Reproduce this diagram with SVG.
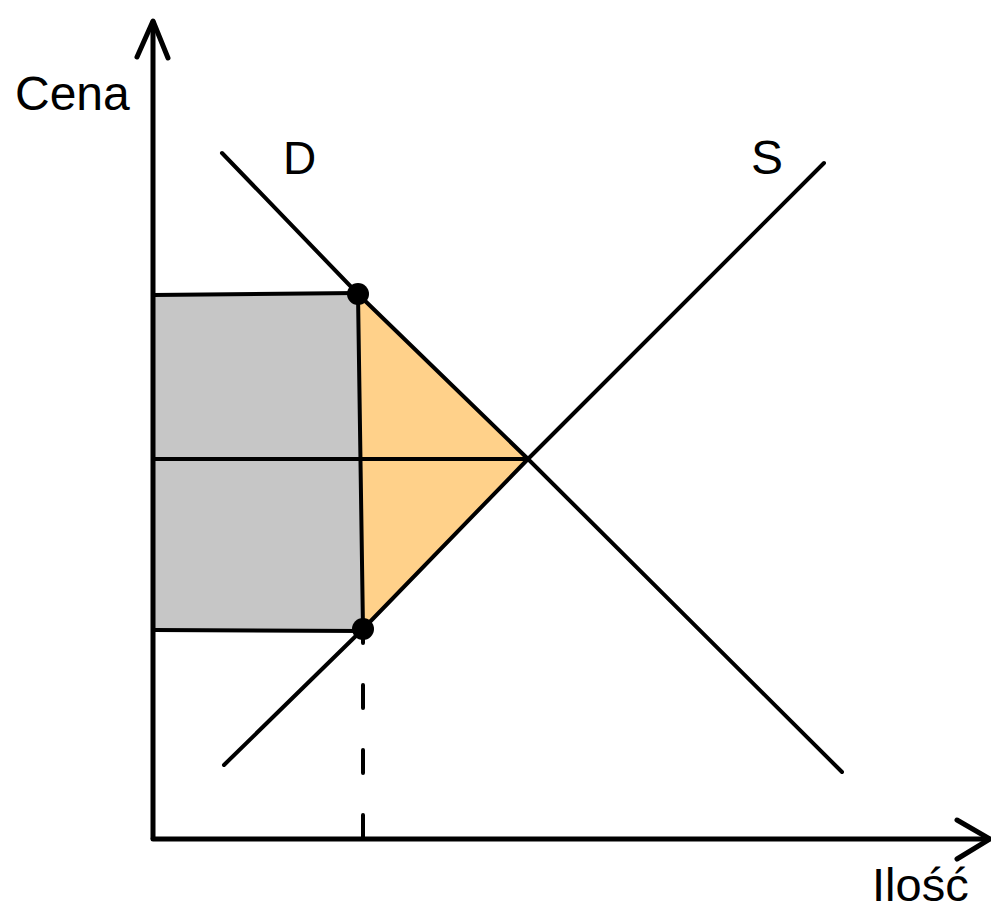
<svg xmlns="http://www.w3.org/2000/svg" width="991" height="912" viewBox="0 0 991 912">
<style>
.ln{fill:none;stroke:#000;stroke-width:4;stroke-linecap:round;stroke-linejoin:round}
.ax{fill:none;stroke:#000;stroke-width:5;stroke-linecap:round;stroke-linejoin:round}
.t{font-family:"Liberation Sans",Arial,sans-serif;fill:#000}
</style>
<rect width="991" height="912" fill="#fff"/>
<g id="areas">
<polygon id="grey" points="153,295 358,293 363,631 153,630" fill="#C6C6C6"/>
<polygon id="orange" points="358,294 528,459 363,629" fill="#FFD18A"/>
</g>
<g id="connectors">
<path class="ax" d="M153,838 L153,22"/>
<path class="ax" d="M137,57 L153,21 L168,58"/>
<path class="ax" d="M153,839 L989,839"/>
<path class="ax" d="M957,820 L990,839 L957,859"/>
<path id="D" class="ln" d="M222,153 L358,294 L528,459 L842,772"/>
<path id="S" class="ln" d="M224,765 L363,629 L528,459 L824,163"/>
<path class="ln" d="M153,295 L358,293"/>
<path class="ln" d="M153,630 L363,631"/>
<path class="ln" d="M153,459 L528,459"/>
<path class="ln" d="M358,294 L363,629"/>
<path class="ln" d="M363,620 L363,838" stroke-dasharray="23 42" stroke-linecap="butt"/>
</g>
<g id="points">
<circle cx="358" cy="294" r="11" fill="#000"/>
<circle cx="363" cy="629" r="11" fill="#000"/>
</g>
<g id="labels">
<text class="t" x="15" y="110" font-size="48">Cena</text>
<text class="t" x="283" y="174" font-size="46">D</text>
<text class="t" x="751" y="174" font-size="48">S</text>
<text class="t" x="872" y="901" font-size="47">Ilość</text>
</g>
</svg>
